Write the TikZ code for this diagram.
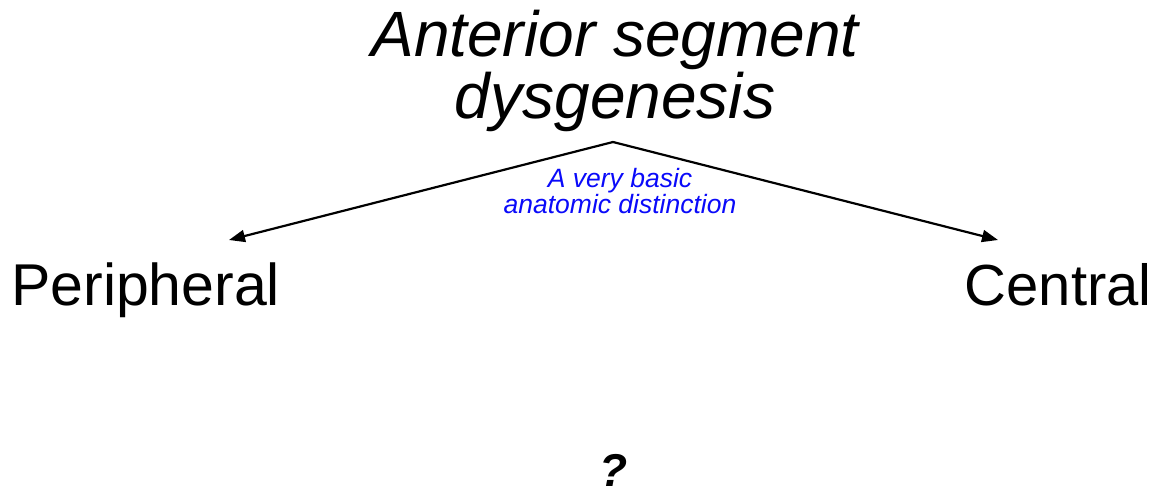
\documentclass[tikz,border=0pt]{standalone}
\usepackage{fontspec}
\setmainfont{Liberation Sans}
\usepackage{tikz}
\usetikzlibrary{positioning,arrows.meta,calc}
\definecolor{NoteBlue}{RGB}{10,10,250}
\definecolor{DarkText}{RGB}{0,0,0}

\begin{document}
\begin{tikzpicture}[x=1pt,y=1pt,>=Latex,text=DarkText]
		\useasboundingbox (0,0) rectangle (1156,493);
		\fill[white] (0,0) rectangle (1156,493);
		
		% Judul
		\node[font=\itshape\fontsize{64}{62}\selectfont,align=center,inner sep=0pt] (title) at (615,422)
		{Anterior segment\\dysgenesis};
		
		% Cabang
		\node[font=\fontsize{59}{59}\selectfont,anchor=base west,inner sep=0pt] (periph) at (11,187) {Peripheral};
		\node[font=\fontsize{58}{58}\selectfont,anchor=base east,inner sep=0pt] (central) at (1152,187) {Central};
		
		\coordinate (apex) at (613,351);
		\coordinate (tipL) at (229,253);
		\coordinate (tipR) at (998,253);
		\draw[line width=2.2pt,-{Triangle[length=16pt,width=12pt]}] (apex)--(tipL);
		\draw[line width=2.2pt,-{Triangle[length=16pt,width=12pt]}] (apex)--(tipR);
		
		\node[font=\itshape\fontsize{26.5}{26}\selectfont,text=NoteBlue,align=center,inner sep=0pt] (note) at (620,302)
		{A very basic\\anatomic distinction};
		
		% Pertanyaan
		\node[font=\bfseries\itshape\fontsize{46}{46}\selectfont,anchor=base,inner sep=0pt] (question) at (614,7) {?};
	\end{tikzpicture}
\end{document}
